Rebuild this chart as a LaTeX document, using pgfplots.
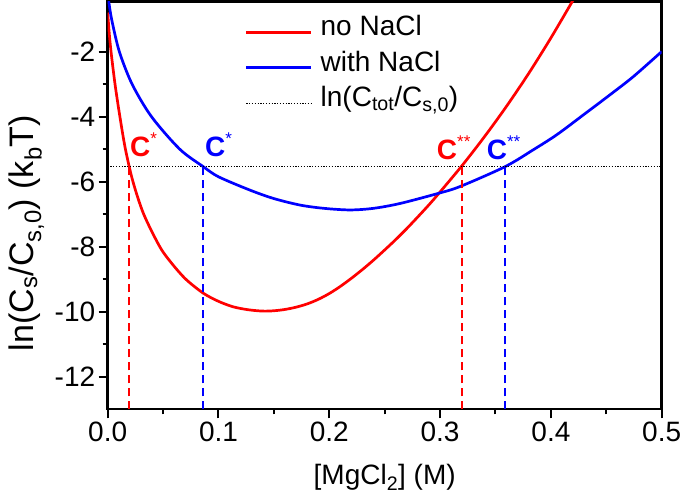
\documentclass[border=0pt]{standalone}
\usepackage{fontspec}
\setmainfont{Liberation Sans}
\usepackage{pgfplots}
\pgfplotsset{compat=1.18}
\newcommand{\bigfont}{\fontsize{28}{30}\selectfont}
\newcommand{\lab}[1]{\rule[-9pt]{0pt}{31pt}#1}
\begin{document}
\begin{tikzpicture}
\begin{axis}[
  scale only axis, width=554pt, height=407.8pt,
  xmin=0, xmax=0.5, ymin=-13, ymax=-0.46,
  xtick={0,0.1,0.2,0.3,0.4,0.5}, ytick={-12,-10,-8,-6,-4,-2},
  minor x tick num=1, minor y tick num=1,
  tick align=outside, xtick pos=bottom, ytick pos=left,
  major tick length=9pt, minor tick length=5pt,
  every tick/.style={black, line width=2pt},
  axis line style={line width=2.4pt},
  /pgf/number format/assume math mode=true,
  tick label style={font=\bigfont},
  xticklabel style={/pgf/number format/fixed, /pgf/number format/fixed zerofill, /pgf/number format/precision=1},
  xlabel={[MgCl\textsubscript{2}] (M)},
  ylabel={ln(C\textsubscript{s}/C\textsubscript{s,0}) (k\textsubscript{b}T)},
  xlabel style={font=\bigfont, at={(axis description cs:0.5,0)}, anchor=base, yshift=-75.7pt},
  ylabel style={font=\fontsize{34}{36}\selectfont, at={(axis description cs:-0.147,0.432)}, anchor=center},
  legend style={at={(axis cs:0.1239,-0.84)}, anchor=north west, draw=none, fill=none,
    font=\bigfont, inner sep=0pt, outer sep=0pt, row sep={35.5pt,between origins},
    nodes={inner sep=0pt}, cells={anchor=base west}},
  legend image code/.code={\draw[#1] (0pt,0.36em) -- (65pt,0.36em); \path (73pt,0pt);},
  clip=true,
]
\addplot[red, line width=2.7pt, smooth, tension=0.5] coordinates {
(0.000,-0.80) (0.0013,-1.40) (0.0030,-2.00) (0.0066,-3.00) (0.0110,-4.00)
(0.0160,-5.00) (0.0228,-6.00) (0.0325,-7.00) (0.0470,-8.00)
(0.0575,-8.50) (0.0705,-9.00) (0.0863,-9.43) (0.100,-9.68) (0.1134,-9.85)
(0.127,-9.94) (0.140,-9.98) (0.150,-9.97) (0.160,-9.93) (0.170,-9.86)
(0.180,-9.76) (0.190,-9.62) (0.200,-9.44) (0.210,-9.22) (0.220,-8.97)
(0.230,-8.70) (0.240,-8.41) (0.250,-8.10) (0.260,-7.78) (0.270,-7.44)
(0.280,-7.08) (0.290,-6.71) (0.2984,-6.38) (0.3195,-5.52) (0.340,-4.62)
(0.360,-3.68) (0.380,-2.67) (0.400,-1.58) (0.420,-0.42)
};
\addlegendentry{\lab{no NaCl}}
\addplot[blue, line width=2.7pt, smooth, tension=0.5] coordinates {
(0.000,-0.30) (0.0010,-0.47) (0.0035,-1.00) (0.0105,-2.00) (0.0220,-3.00)
(0.0395,-4.00) (0.0650,-5.00) (0.0863,-5.54) (0.100,-5.85) (0.1284,-6.26)
(0.150,-6.52) (0.1736,-6.72) (0.195,-6.82) (0.2187,-6.87) (0.240,-6.82)
(0.264,-6.67) (0.2984,-6.36) (0.318,-6.15) (0.3586,-5.54) (0.3841,-5.02)
(0.4052,-4.56) (0.4292,-3.95) (0.4533,-3.33) (0.4744,-2.77) (0.500,-2.00)
};
\addlegendentry{\lab{with NaCl}}
\addplot[black, line width=1pt, dash pattern=on 1.2pt off 1.6pt] coordinates {(0,-5.53) (0.5,-5.53)};
\addlegendentry{\lab{ln(C\textsubscript{tot}/C\textsubscript{s,0})}}
\addplot[red, line width=1.8pt, dash pattern=on 8pt off 5pt, forget plot] coordinates {(0.0192,-13) (0.0192,-5.53)};
\addplot[blue, line width=1.8pt, dash pattern=on 8pt off 5pt, forget plot] coordinates {(0.0863,-13) (0.0863,-5.53)};
\addplot[red, line width=1.8pt, dash pattern=on 8pt off 5pt, forget plot] coordinates {(0.3197,-13) (0.3197,-5.53)};
\addplot[blue, line width=1.8pt, dash pattern=on 8pt off 5pt, forget plot] coordinates {(0.3586,-13) (0.3586,-5.53)};
\node[anchor=base west, inner sep=0pt, text=red, font=\bigfont\bfseries] at (axis cs:0.0201,-5.24) {C\raisebox{12pt}{\fontsize{17}{17}\selectfont\mdseries *}};
\node[anchor=base west, inner sep=0pt, text=blue, font=\bigfont\bfseries] at (axis cs:0.0878,-5.24) {C\raisebox{12pt}{\fontsize{17}{17}\selectfont\mdseries *}};
\node[anchor=base west, inner sep=0pt, text=red, font=\bigfont\bfseries] at (axis cs:0.297,-5.33) {C\raisebox{12pt}{\fontsize{17}{17}\selectfont\mdseries **}};
\node[anchor=base west, inner sep=0pt, text=blue, font=\bigfont\bfseries] at (axis cs:0.342,-5.33) {C\raisebox{12pt}{\fontsize{17}{17}\selectfont\mdseries **}};
\end{axis}
\pgfresetboundingbox
\path[use as bounding box] (-107.7pt,-93.7pt) rectangle (578.3pt,409.3pt);
\end{tikzpicture}
\end{document}
